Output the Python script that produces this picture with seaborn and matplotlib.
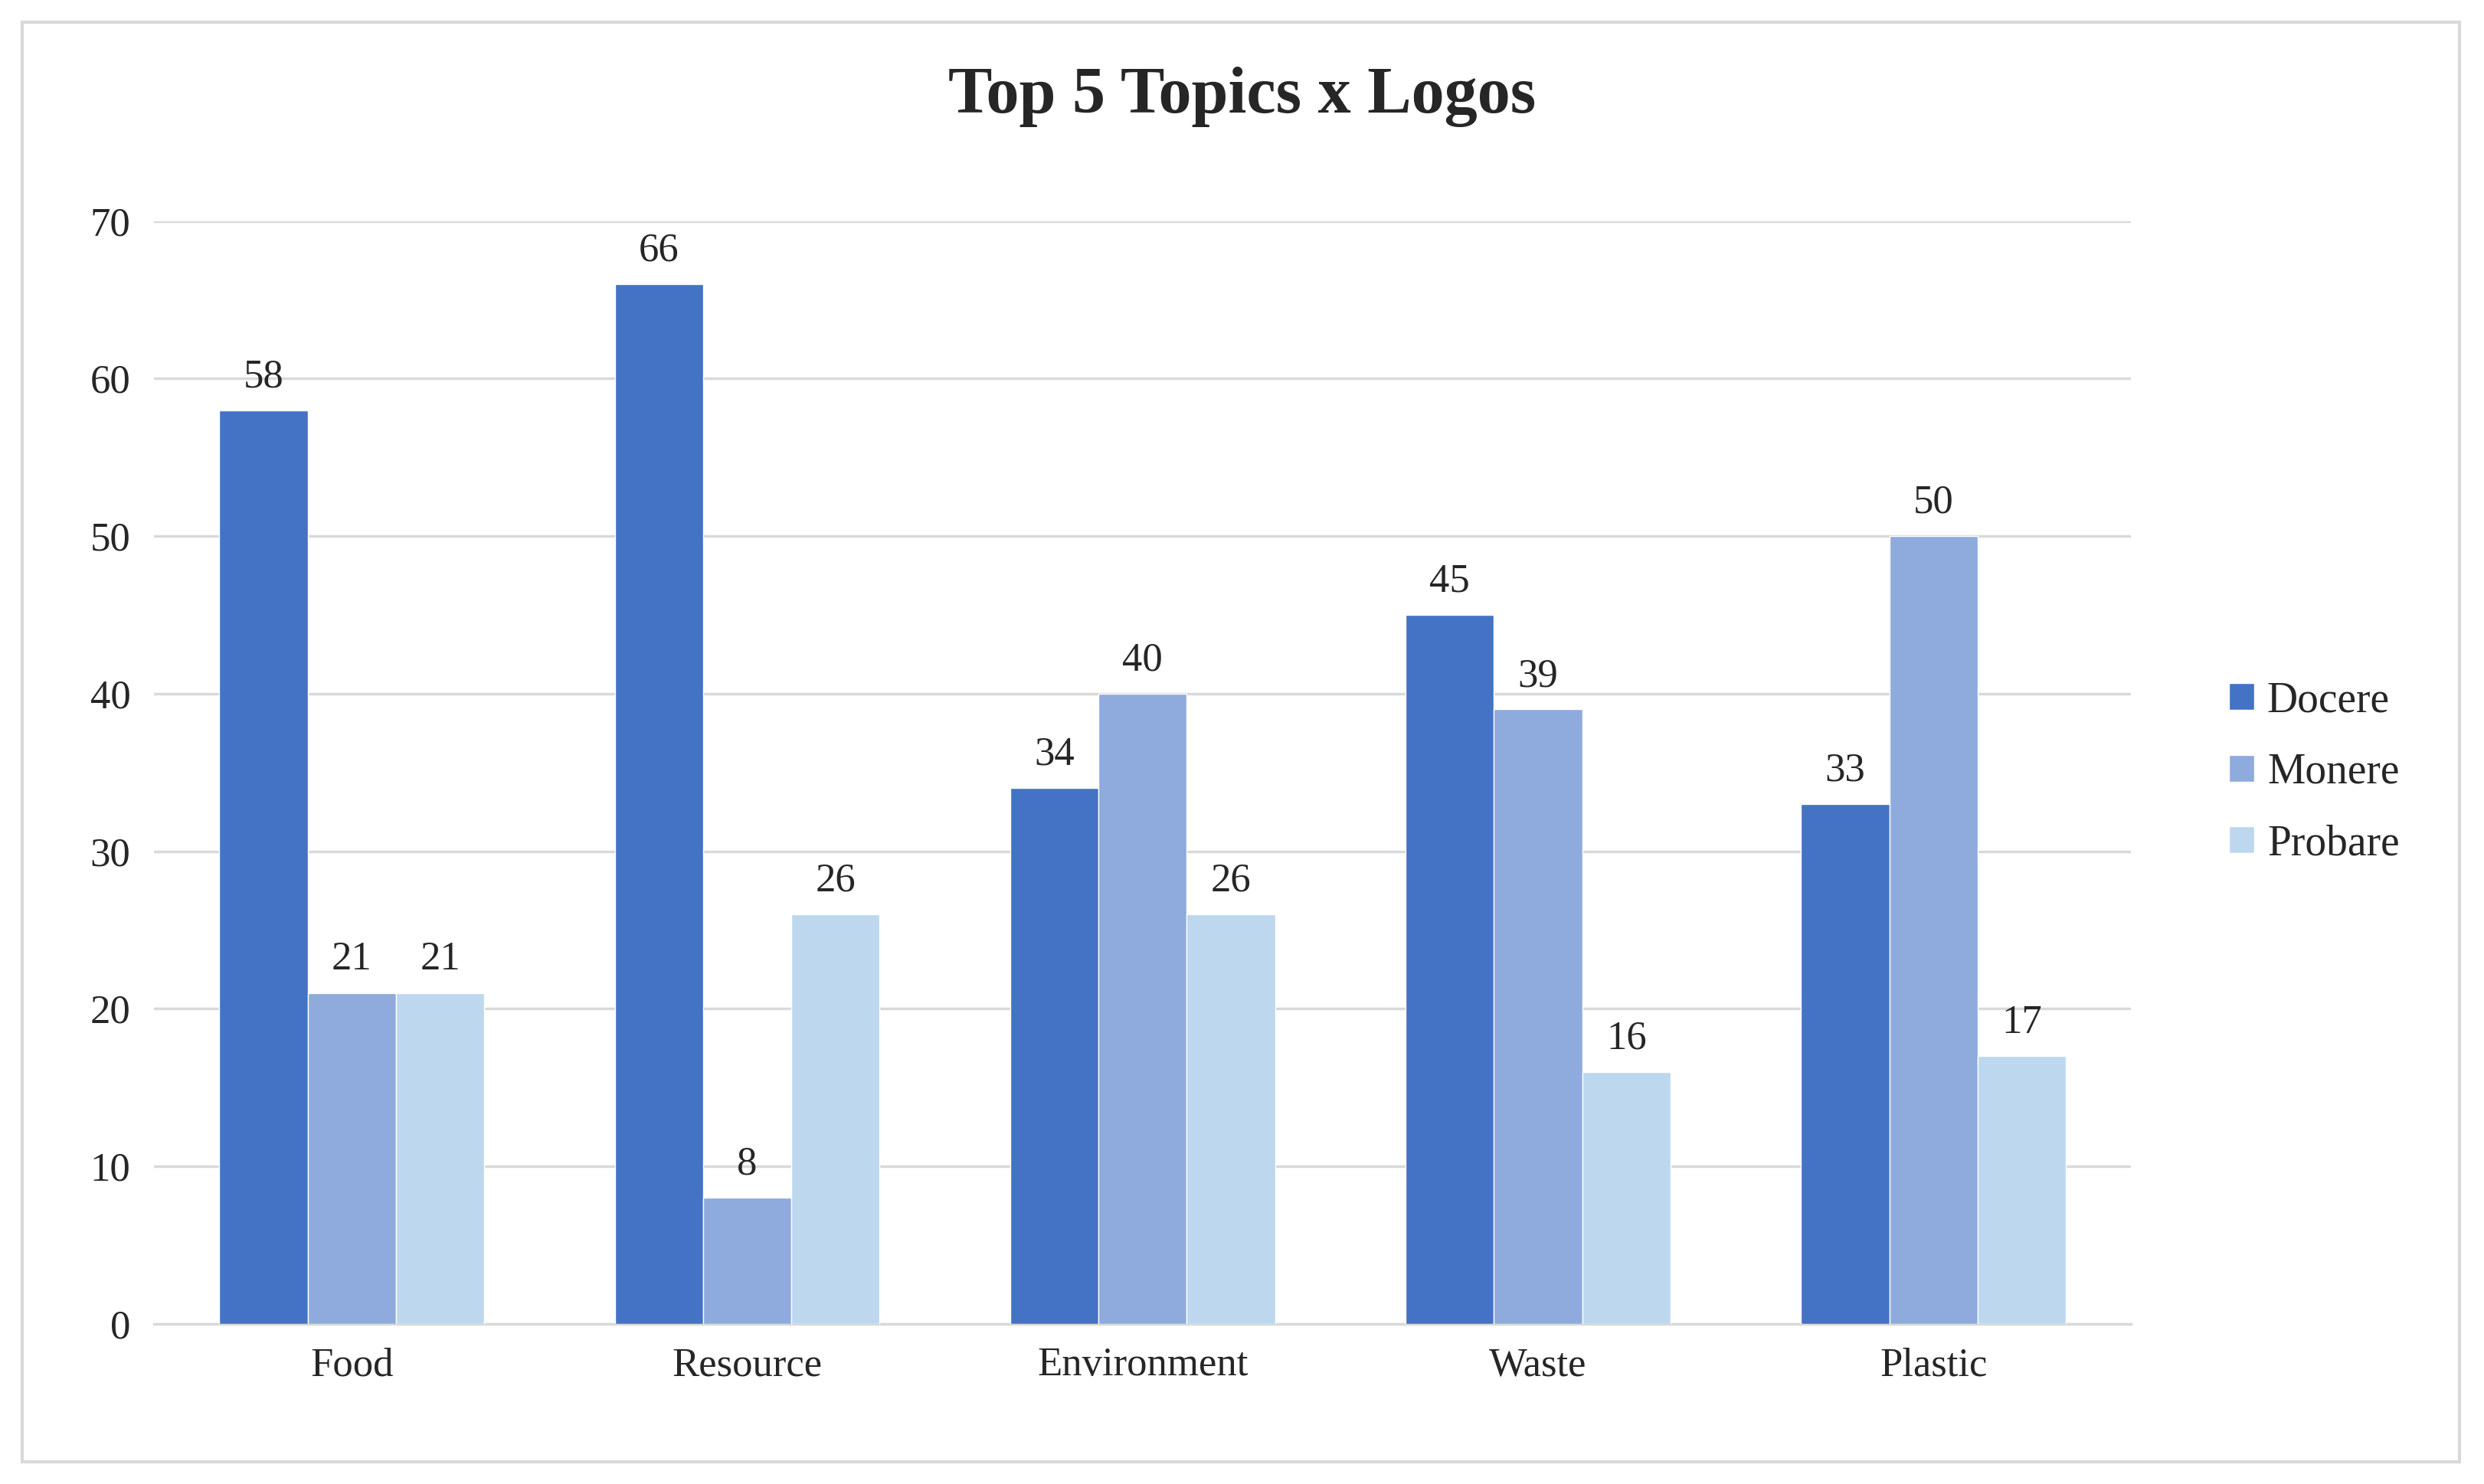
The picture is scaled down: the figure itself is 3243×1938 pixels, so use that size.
import pandas as pd
import matplotlib.pyplot as plt
import seaborn as sns
from matplotlib.patches import Rectangle

topics = ["Food", "Resource", "Environment", "Waste", "Plastic"]
series = ["Docere", "Monere", "Probare"]
docere = [58, 66, 34, 45, 33]
monere = [21, 8, 40, 39, 50]
probare = [21, 26, 26, 16, 17]
colors = ["#4472C4", "#8FAADC", "#BDD7EE"]

df = pd.DataFrame({
    "Topic": topics * 3,
    "Logo": [s for s in series for _ in topics],
    "Count": docere + monere + probare,
})

sns.set_style("white")
plt.rcParams["font.family"] = ["Liberation Serif", "DejaVu Serif"]

fig = plt.figure(figsize=(32.43, 19.38), dpi=100)
ax = fig.add_axes([0.062, 0.108, 0.796, 0.743])
fig.patches.append(Rectangle((0.009, 0.015), 0.981, 0.97, transform=fig.transFigure,
                             fill=False, edgecolor="#d9d9d9", linewidth=3))

sns.barplot(data=df, x="Topic", y="Count", hue="Logo", palette=colors,
            width=0.67, saturation=1, ax=ax, zorder=3)

for c in ax.containers:
    ax.bar_label(c, padding=14, fontsize=38)

ax.set_ylim(0, 70)
ax.set_yticks(range(0, 71, 10))
ax.grid(axis="y", color="#d9d9d9", linewidth=2.5, zorder=0)
ax.set_axisbelow(True)
for s in ["top", "right", "left"]:
    ax.spines[s].set_visible(False)
ax.spines["bottom"].set_color("#d9d9d9")
ax.spines["bottom"].set_linewidth(2.5)
ax.tick_params(axis="both", labelsize=38, length=0, pad=22)
ax.set_xlabel("")
ax.set_ylabel("")

fig.suptitle("Top 5 Topics x Logos", fontsize=62, fontweight="bold", y=0.955)

ax.legend(title=None, loc="center left", bbox_to_anchor=(1.03, 0.5), frameon=False,
          fontsize=40, handlelength=0.6, handleheight=0.6, handletextpad=0.3,
          labelspacing=0.75)

plt.savefig("out.png", dpi=100)
